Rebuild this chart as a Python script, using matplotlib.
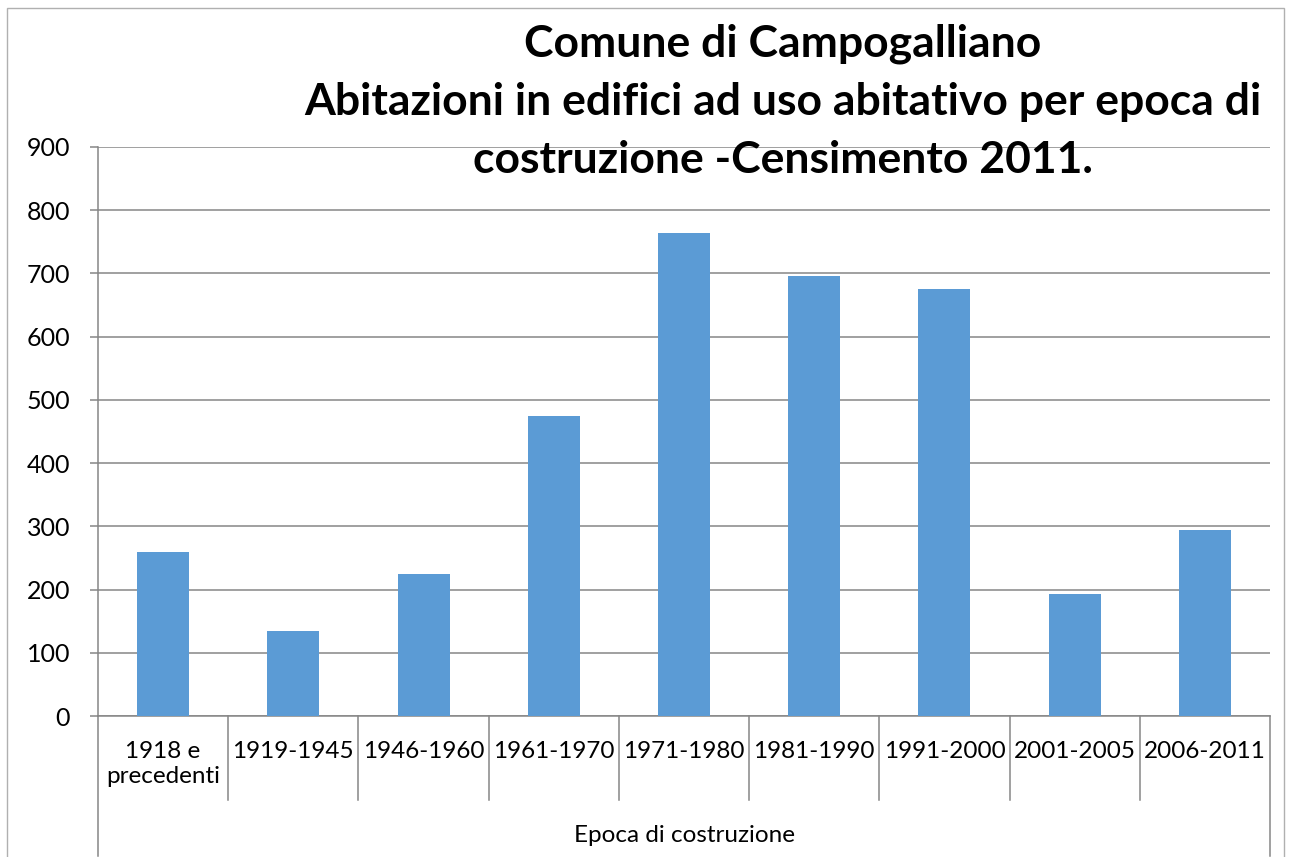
import matplotlib.pyplot as plt
from matplotlib.patches import Rectangle

categories = ["1918 e\nprecedenti", "1919-1945", "1946-1960", "1961-1970", "1971-1980",
              "1981-1990", "1991-2000", "2001-2005", "2006-2011"]
abitazioni = [260, 135, 225, 475, 764, 696, 675, 193, 294]
yticks = [0, 100, 200, 300, 400, 500, 600, 700, 800, 900]

title = ("Comune di Campogalliano\n"
         "Abitazioni in edifici ad uso abitativo per epoca di\n"
         "costruzione -Censimento 2011.")

grey = "#868686"
plt.rcParams['font.family'] = ['Lato', 'DejaVu Sans']

fig = plt.figure(figsize=(12.91, 8.57), dpi=100)
ax = fig.add_axes([98/1291, 1 - 716/857, (1270-98)/1291, (716-147)/857])

x = range(len(categories))
ax.bar(x, abitazioni, width=0.4, color="#5B9BD5", zorder=3)

ax.set_xlim(-0.5, len(categories) - 0.5)
ax.set_ylim(0, 900)
ax.set_yticks(yticks)
ax.set_yticklabels([str(v) for v in yticks], fontsize=18)
ax.grid(axis='y', color=grey, linewidth=1.1, zorder=0)

ax.set_xticks(list(x))
ax.set_xticklabels(categories, fontsize=17.5, linespacing=1.22, va='top')
ax.tick_params(axis='x', length=0, pad=18)
ax.tick_params(axis='y', length=6, width=1.1, color=grey, pad=14)

for s in ['top', 'right']:
    ax.spines[s].set_visible(False)
for s in ['left', 'bottom']:
    ax.spines[s].set_color(grey)
    ax.spines[s].set_linewidth(1.1)

# separatori delle categorie sotto l'asse
trans = ax.get_xaxis_transform()
for b in [i + 0.5 for i in range(len(categories) - 1)]:
    ax.plot([b, b], [0, -84/569], transform=trans, color=grey, lw=1.1, clip_on=False)
for b in [-0.5, len(categories) - 0.5]:
    ax.plot([b, b], [0, -140/569], transform=trans, color=grey, lw=1.1, clip_on=False)

ax.text(0.5, -119/569, "Epoca di costruzione", transform=ax.transAxes,
        ha='center', va='center', fontsize=17.5)

fig.text(783/1291, 1 - 24/857, title, ha='center', va='top', fontsize=32,
         fontweight='bold', linespacing=1.54)

fig.patches.append(Rectangle((7/1291, -0.01), (1284-7)/1291, 1 - 8/857 + 0.01,
                             transform=fig.transFigure, fill=False,
                             edgecolor="#b0b0b0", linewidth=1))

plt.savefig("out.png")
